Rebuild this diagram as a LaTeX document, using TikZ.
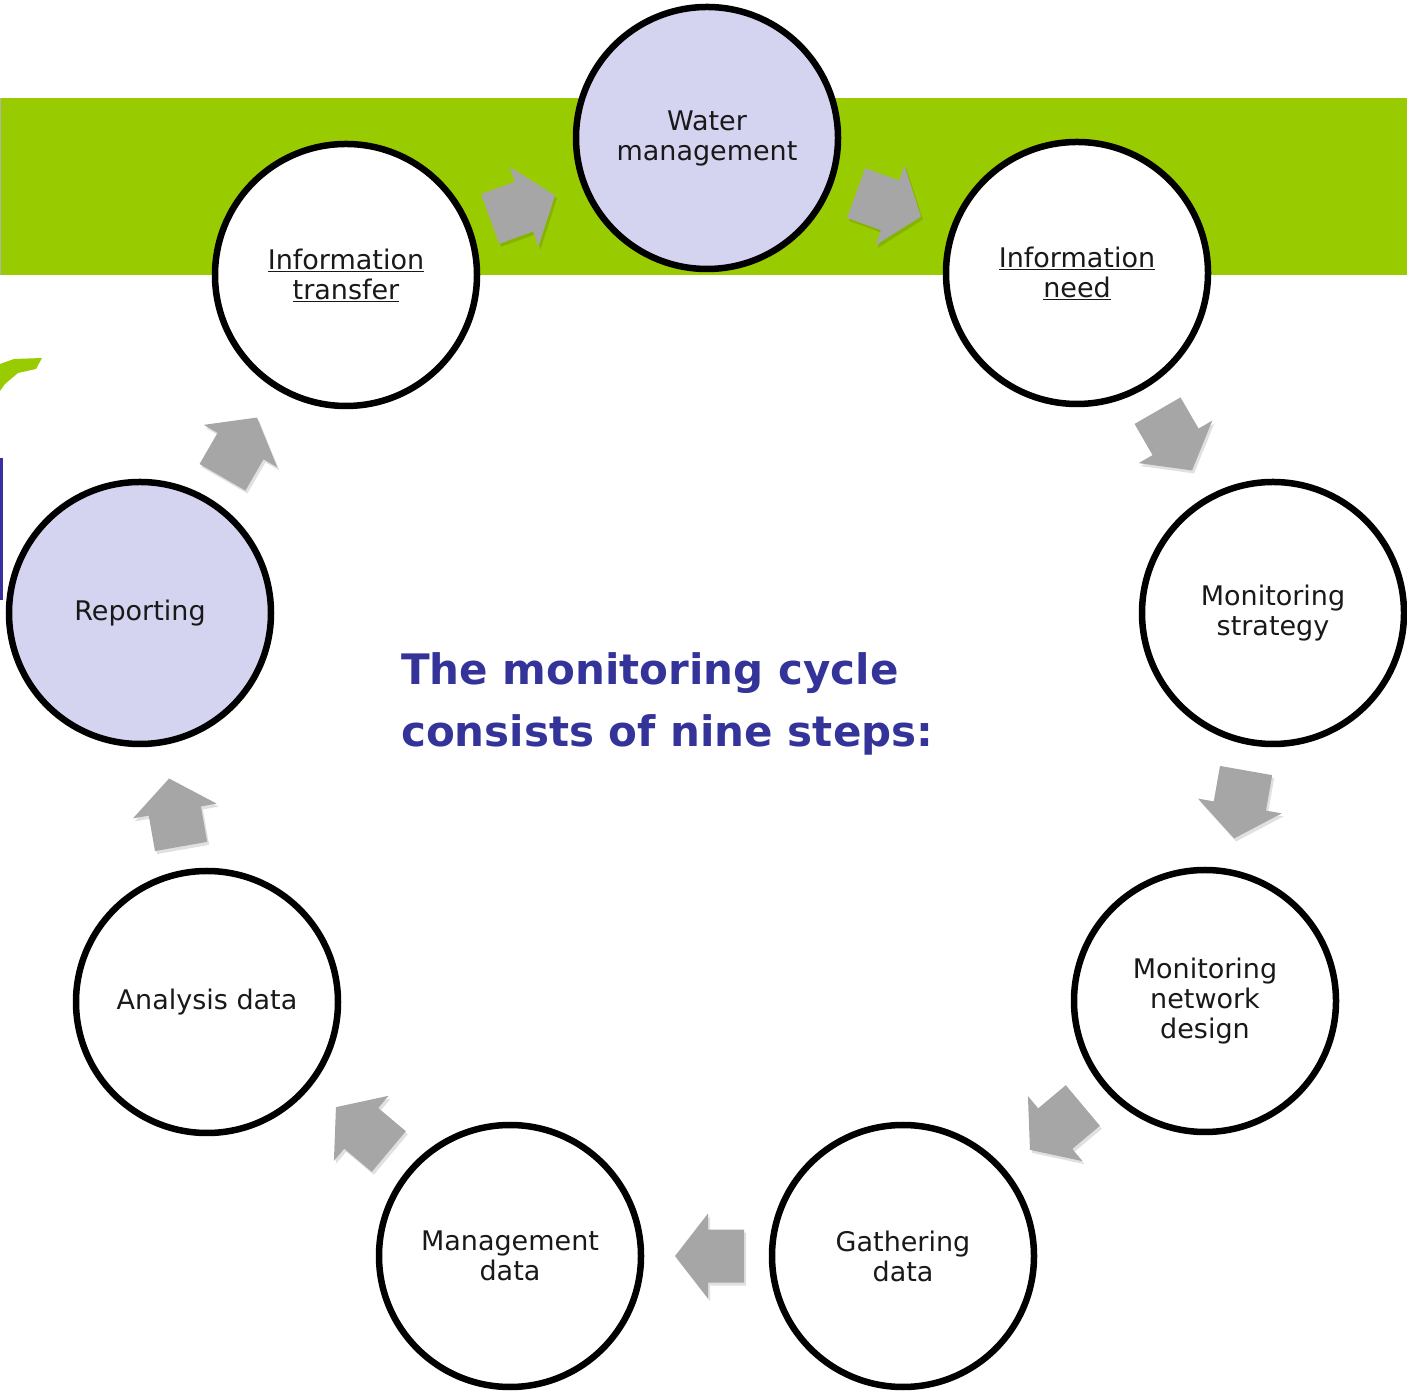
\documentclass[tikz,border=0pt]{standalone}
\usepackage{fontspec}
\setmainfont{DejaVu Sans}
\definecolor{bandgreen}{RGB}{153,204,0}
\definecolor{lavender}{RGB}{212,212,240}
\definecolor{arrowgray}{RGB}{166,166,166}
\definecolor{titleblue}{RGB}{51,51,153}
\definecolor{edgepurple}{RGB}{58,47,160}
\tikzset{
  stepnode/.style={circle, draw=black, line width=6.5pt, fill=white, minimum size=262pt,
    inner sep=0pt, align=center, text=black!90, font=\fontsize{27}{30}\selectfont},
  hilite/.style={stepnode, fill=lavender},
  titletext/.style={anchor=base west, inner sep=0pt, text=titleblue,
    font=\bfseries\fontsize{42}{62}\selectfont},
  cyclearrow/.style={fill=arrowgray},
  arrowshadow/.style={fill=black, opacity=0.12}
}
\begin{document}
\begin{tikzpicture}[x=1pt,y=1pt]
\useasboundingbox (0,0) rectangle (1407,1397);
% green band
\fill[bandgreen] (0,1299) rectangle (1407,1122);
\draw[gray!60, line width=1pt] (0.5,1299) -- (0.5,1122);
% leaf fragment
\fill[bandgreen] (0,1033) -- (14,1038) -- (42,1039) -- (36,1028) -- (18,1024) -- (5,1013) -- (0,1006) -- cycle;
% purple edge line
\fill[edgepurple] (0,939) rectangle (3,797);
% arrows (position / rotation)
\foreach \px/\py/\r in {523/1190/20, 889/1192/-20, 1175/956/-60, 1240/592/-100,
    1056/269/-140, 709/141/180, 362/268/140, 175/585/100, 240/950/60}{
  \fill[arrowshadow, shift={(\px+2,\py-3)}, rotate=\r]
    (-35,-26.5) -- (1,-26.5) -- (1,-42.5) -- (34,0) -- (1,42.5) -- (1,26.5) -- (-35,26.5) -- cycle;
  \fill[cyclearrow, shift={(\px,\py)}, rotate=\r]
    (-35,-26.5) -- (1,-26.5) -- (1,-42.5) -- (34,0) -- (1,42.5) -- (1,26.5) -- (-35,26.5) -- cycle;
}
% nodes
\node[hilite]   (water)    at (707,1259)  {Water\\management};
\node[stepnode] (infoneed) at (1077,1124) {\underline{Information}\\\underline{need}};
\node[stepnode] (strategy) at (1273,784)  {Monitoring\\strategy};
\node[stepnode] (network)  at (1205,396)  {Monitoring\\network\\design};
\node[stepnode] (gather)   at (903,141)   {Gathering\\data};
\node[stepnode] (manage)   at (510,141)   {Management\\data};
\node[stepnode] (analysis) at (207,395)   {Analysis data};
\node[hilite]   (report)   at (140,784)   {Reporting};
\node[stepnode] (transfer) at (346,1122)  {\underline{Information}\\\underline{transfer}};
\node[titletext] (title1) at (401,712) {The monitoring cycle};
\node[titletext] (title2) at (401,650) {consists of nine steps:};
\end{tikzpicture}
\end{document}
